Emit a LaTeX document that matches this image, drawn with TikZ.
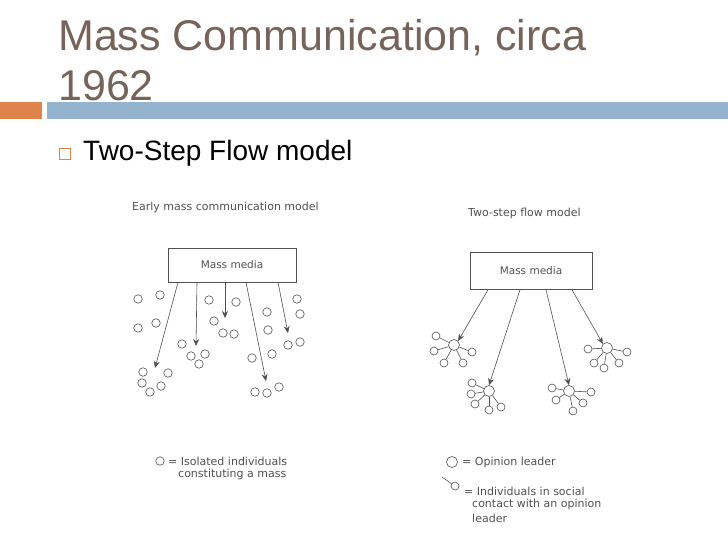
\documentclass[tikz,border=0pt]{standalone}
\usepackage{fontspec}
\setmainfont{Liberation Sans}
\newfontfamily\figfont{DejaVu Sans}
\usetikzlibrary{arrows.meta,calc}
\definecolor{titlebrown}{HTML}{76645A}
\definecolor{barblue}{HTML}{93B3CF}
\definecolor{barorange}{HTML}{E0834A}
\definecolor{inkgray}{HTML}{505050}
\tikzset{
  indiv/.style={circle,draw=inkgray,semithick,minimum size=8.5pt,inner sep=0pt},
  leader/.style={circle,draw=inkgray,semithick,minimum size=11pt,inner sep=0pt},
  follower/.style={circle,draw=inkgray,semithick,minimum size=8pt,inner sep=0pt},
  mediabox/.style={draw=inkgray,semithick,inner sep=0pt,font=\figfont\fontsize{10.5}{12}\selectfont,text=inkgray},
  flow/.style={-{Stealth[length=7pt,width=6pt]},inkgray,semithick},
  caption/.style={font=\figfont\fontsize{11}{12}\selectfont,text=inkgray,anchor=west,inner sep=0pt}
}
% one opinion leader with its followers
\newcommand{\leadercluster}[3]{%
  \node[leader] (#1) at (#2) {};
  \foreach \dx/\dy [count=\i] in {#3} {
    \node[follower] (#1f\i) at ($(#2)+(\dx,\dy)$) {};
    \draw[inkgray,semithick] (#1) -- (#1f\i);
  }}
\begin{document}
\begin{tikzpicture}[x=1pt,y=-1pt]
  \useasboundingbox (0,0) rectangle (728,546);
  % slide title and bars
  \node[anchor=base west,inner sep=0pt,text=titlebrown,font=\fontsize{43}{43}\selectfont] (title1) at (58,50) {Mass Communication, circa};
  \node[anchor=base west,inner sep=0pt,text=titlebrown,font=\fontsize{43}{43}\selectfont] (title2) at (58,100) {1962};
  \fill[barorange] (0,102) rectangle (42,119);
  \fill[barblue] (47,102) rectangle (728,119);
  \draw[barorange,semithick] (59,148) rectangle (70,159);
  \node[anchor=base west,inner sep=0pt,font=\fontsize{28}{28}\selectfont] (bullet) at (83,160) {Two-Step Flow model};

  % early model
  \node[caption] (earlytitle) at (132,207) {Early mass communication model};
  \node[mediabox,minimum width=128pt,minimum height=34pt] (mediaL) at (232,265) {Mass media};
  \coordinate (eL1) at (155,368);
  \coordinate (eL2) at (196,346);
  \coordinate (eL3) at (225,318);
  \coordinate (eL4) at (266,381);
  \coordinate (eL5) at (288,333);
  \draw[flow] (mediaL.south west -| 178,0) -- (eL1);
  \draw[flow] (mediaL.south west -| 197,0) -- (eL2);
  \draw[flow] (mediaL.south west -| 225,0) -- (eL3);
  \draw[flow] (mediaL.south west -| 246,0) -- (eL4);
  \draw[flow] (mediaL.south west -| 278,0) -- (eL5);
  \foreach \x/\y [count=\i] in {138/299,160/295,138/328,156/323,209/300,236/302,214/321,223/333,
      234/334,182/344,191/356,205/354,199/364,267/312,268/330,272/354,252/358,297/299,300/314,
      288/345,300/342,143/372,168/373,142/383,161/386,150/392,255/392,267/393,279/387}
    \node[indiv] (ind\i) at (\x,\y) {};
  \node[indiv] (keyind) at (160,461) {};
  \node[caption] (keyindtext) at (168,461) {= Isolated individuals};
  \node[caption] (keyindtext2) at (178,474) {constituting a mass};

  % two-step model
  \node[caption] (twotitle) at (468,213) {Two-step flow model};
  \node[mediabox,minimum width=122pt,minimum height=37pt] (mediaR) at (531,271) {Mass media};
  \leadercluster{ldA}{454,345}{-18/-9,-20/6,-10/18,9/18,18/7}
  \leadercluster{ldB}{489,391}{-17/-8,-18/3,-14/13,0/19,12/16}
  \leadercluster{ldC}{569,391}{-17/-3,-13/9,4/20,14/12,22/1}
  \leadercluster{ldD}{607,348}{-19/1,-13/15,-3/20,12/15,20/4}
  \draw[flow] (mediaR.south west -| 488,0) -- (ldA.north east);
  \draw[flow] (mediaR.south west -| 520,0) -- (ldB.north);
  \draw[flow] (mediaR.south west -| 546,0) -- (ldC.north);
  \draw[flow] (mediaR.south west -| 572,0) -- (ldD.north west);
  \node[leader] (keyld) at (452,462) {};
  \node[caption] (keyldtext) at (462,462) {= Opinion leader};
  \node[follower] (keyfol) at (455,486) {};
  \coordinate (keyfolend) at (442,477);
  \draw[inkgray,semithick] (keyfolend) -- (keyfol);
  \node[caption] (keyfoltext) at (464,491) {= Individuals in social};
  \node[caption] (keyfoltext2) at (472,504) {contact with an opinion};
  \node[caption] (keyfoltext3) at (472,518) {leader};
\end{tikzpicture}
\end{document}
